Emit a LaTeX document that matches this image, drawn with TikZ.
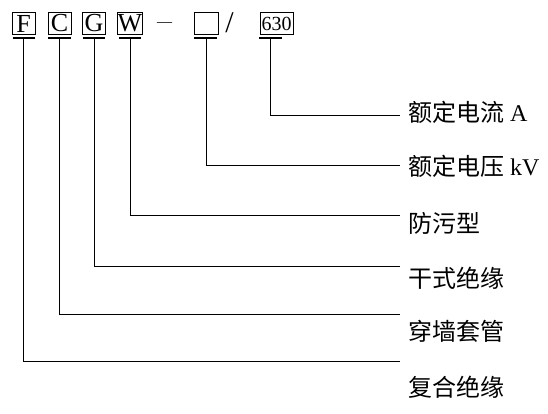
\documentclass[tikz,border=0pt]{standalone}
\usepackage{fontspec}
\setmainfont{Liberation Serif}
\newfontfamily\cjk{Noto Sans CJK SC}
\begin{document}
\begin{tikzpicture}[x=1pt,y=-1pt,
  letterbox/.style={draw,line width=0.8pt,inner sep=0pt,minimum width=23pt,minimum height=22pt,
    font=\fontsize{26}{26}\selectfont},
  sign/.style={inner sep=0pt,anchor=base},
  underline/.style={line width=1.5pt},
  conn/.style={line width=1pt},
  lbl/.style={anchor=west,inner sep=0pt,font=\fontsize{24}{27}\selectfont}]
\useasboundingbox (0,0) rectangle (548,414);
% boxes
\node[letterbox] (bF) at (23.5,23.5) {F};
\node[letterbox] (bC) at (59.5,23.5) {C};
\node[letterbox] (bG) at (94,23.5) {G};
\node[letterbox] (bW) at (130,23.5) {W};
\node[sign,font=\fontsize{15}{15}\selectfont] (dash) at (164.5,27) {—};
\node[letterbox,minimum width=24pt] (bE) at (206,23.5) {};
\node[sign,font=\fontsize{30}{30}\selectfont] (slash) at (229.5,33) {/};
\node[letterbox,minimum width=33pt,font=\fontsize{20}{20}\selectfont] (bN) at (276.5,23.5) {630};
% underlines
\draw[underline] (12.5,38) -- (35,38);
\draw[underline] (48,38) -- (71,38);
\draw[underline] (83,38) -- (105,38);
\draw[underline] (119,38) -- (141,38);
\draw[underline] (194,38) -- (217,38);
\draw[underline] (259,38) -- (282,38);
\coordinate (uF) at (23,38);
\coordinate (uC) at (59,38);
\coordinate (uG) at (94,38);
\coordinate (uW) at (130,38);
\coordinate (uE) at (206,38);
\coordinate (uN) at (270,38);
% line ends
\coordinate (eN) at (400,116);
\coordinate (eE) at (400,166);
\coordinate (eW) at (400,215);
\coordinate (eG) at (400,266);
\coordinate (eC) at (400,314);
\coordinate (eF) at (400,361);
% connectors
\draw[conn] (uN) |- (eN);
\draw[conn] (uE) |- (eE);
\draw[conn] (uW) |- (eW);
\draw[conn] (uG) |- (eG);
\draw[conn] (uC) |- (eC);
\draw[conn] (uF) |- (eF);
% labels
\node[lbl] (lN) at (408,112) {{\cjk 额定电流} A};
\node[lbl] (lE) at (408,166) {{\cjk 额定电压} kV};
\node[lbl] (lW) at (408,223) {\cjk 防污型};
\node[lbl] (lG) at (408,278) {\cjk 干式绝缘};
\node[lbl] (lC) at (408,331) {\cjk 穿墙套管};
\node[lbl] (lF) at (408,387) {\cjk 复合绝缘};
\end{tikzpicture}
\end{document}
